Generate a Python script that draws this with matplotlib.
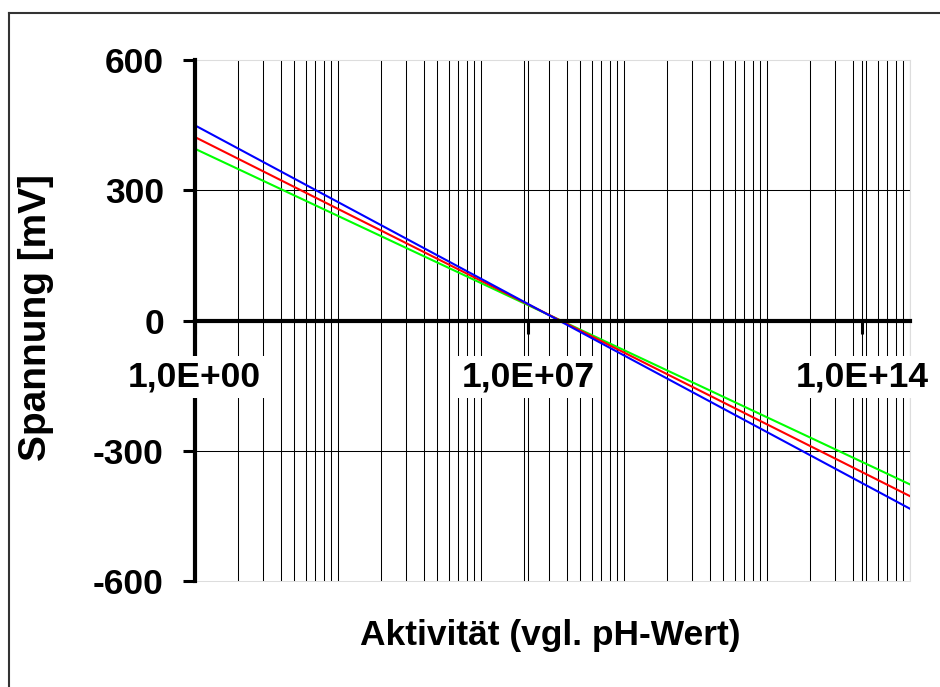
import matplotlib
matplotlib.use("Agg")
import matplotlib.pyplot as plt
from matplotlib.lines import Line2D
from matplotlib.patches import Rectangle
from matplotlib.ticker import FixedLocator, NullFormatter

plt.rcParams["font.family"] = ["Liberation Sans", "DejaVu Sans"]
plt.rcParams["font.weight"] = "bold"

# ---- data ---------------------------------------------------------------
activity = [1e0, 1e15]
u_blue = [450, -433]
u_red = [423, -404]
u_green = [396, -377]

x_ticks = [1e0, 1e7, 1e14]
x_labels = ["1,0E+00", "1,0E+07", "1,0E+14"]
y_ticks = [-600, -300, 0, 300, 600]
y_labels = ["-600", "-300", "0", "300", "600"]

# minor gridlines of the Excel axis (3-decade cycles)
minor = [k ** 3 * 1000.0 ** n for n in range(5) for k in range(2, 11)]

W, H = 940, 687
fig = plt.figure(figsize=(W / 100, H / 100), dpi=100)
ax = fig.add_axes([194.5 / W, 1 - 581 / H, 715 / W, 521 / H])

ax.set_xscale("log")
ax.set_xlim(1e0, 1e15)
ax.set_ylim(-600, 600)

# gridlines
ax.xaxis.set_major_locator(FixedLocator(x_ticks))
ax.xaxis.set_minor_locator(FixedLocator(minor))
ax.xaxis.set_minor_formatter(NullFormatter())
ax.set_xticklabels([])
ax.grid(axis="x", which="both", color="black", linewidth=0.75, zorder=1)
for v in y_ticks:
    if abs(v) == 300:
        ax.axhline(v, color="black", linewidth=0.75, zorder=1)

# curves
ax.plot(activity, u_green, color="#00ff00", linewidth=1.5, zorder=3)
ax.plot(activity, u_red, color="#ff0000", linewidth=1.5, zorder=3)
ax.plot(activity, u_blue, color="#0000ff", linewidth=1.5, zorder=3)

# axes frame
for s in ["top", "right"]:
    ax.spines[s].set_color("#dddddd")
    ax.spines[s].set_linewidth(0.75)
ax.add_patch(Rectangle((0, 0), 1, 1, transform=ax.transAxes, fill=False,
                       edgecolor="#dddddd", linewidth=0.75, clip_on=False, zorder=0))
ax.spines["left"].set_linewidth(3)
ax.spines["bottom"].set_linewidth(3)
ax.spines["bottom"].set_position(("data", 0))
ax.spines["left"].set_zorder(5)
ax.spines["bottom"].set_zorder(5)

ax.set_yticks(y_ticks)
ax.set_yticklabels(y_labels)
ax.tick_params(axis="y", direction="out", length=9, width=2.2, pad=13,
               labelsize=25.5)
ax.tick_params(axis="x", which="major", direction="out", length=9, width=2.2)
ax.tick_params(axis="x", which="minor", length=0)

for v, lab in zip(x_ticks, x_labels):
    ax.annotate(lab, xy=(v, 0), xytext=(0, -40.5), textcoords="offset points",
                ha="center", va="center", fontsize=25.5, fontweight="bold",
                bbox=dict(facecolor="white", edgecolor="none", pad=3),
                annotation_clip=False, zorder=6)

fig.text(36 / W, 1 - 318 / H, "Spannung [mV]", rotation=90, ha="center",
         va="center", fontsize=28, fontweight="bold")
fig.text(550 / W, 1 - 635 / H, "Aktivität (vgl. pH-Wert)", ha="center",
         va="center", fontsize=25.5, fontweight="bold")

# outer chart border
fig.add_artist(Line2D([9 / W, 1], [1 - 12.5 / H] * 2, transform=fig.transFigure,
                      color="#333333", linewidth=1.5))
fig.add_artist(Line2D([9 / W] * 2, [0, 1 - 12.5 / H], transform=fig.transFigure,
                      color="#333333", linewidth=1.5))

fig.savefig("out.png", dpi=100, facecolor="white")
